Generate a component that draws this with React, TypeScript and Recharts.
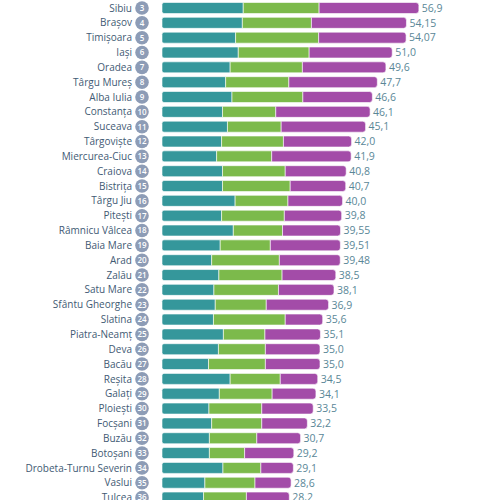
import React from 'react';
import { BarChart, Bar, XAxis, YAxis, LabelList } from 'recharts';

// rows 3..36 of the ranking (top of the chart is cropped in the reference)
const cities = [
  'Sibiu', 'Brașov', 'Timișoara', 'Iași', 'Oradea', 'Târgu Mureș', 'Alba Iulia', 'Constanța',
  'Suceava', 'Târgoviște', 'Miercurea-Ciuc', 'Craiova', 'Bistrița', 'Târgu Jiu', 'Pitești',
  'Râmnicu Vâlcea', 'Baia Mare', 'Arad', 'Zalău', 'Satu Mare', 'Sfântu Gheorghe', 'Slatina',
  'Piatra-Neamț', 'Deva', 'Bacău', 'Reșita', 'Galați', 'Ploiești', 'Focșani', 'Buzău',
  'Botoșani', 'Drobeta-Turnu Severin', 'Vaslui', 'Tulcea',
];
const ranks = [
  3, 4, 5, 6, 7, 8, 9, 10, 11, 12, 13, 14, 15, 16, 17, 18, 19, 20, 21, 22, 23, 24, 25, 26, 27,
  28, 29, 30, 31, 32, 33, 34, 35, 36,
];
const tealValues = [
  18.0, 17.8, 16.3, 16.9, 15.1, 14.1, 15.5, 13.4, 14.5, 13.2, 12.1, 13.4, 13.4, 16.2, 13.2,
  15.8, 12.9, 11.0, 12.6, 11.5, 11.8, 11.4, 13.6, 12.5, 10.3, 15.1, 12.7, 10.4, 11.0, 10.5,
  10.5, 13.5, 9.5, 9.2,
];
const greenValues = [
  16.8, 15.3, 18.4, 15.7, 16.0, 14.0, 15.7, 11.8, 11.9, 13.7, 12.2, 13.9, 15.0, 11.7, 13.9,
  10.9, 11.1, 15.0, 14.0, 14.3, 11.3, 15.9, 9.2, 10.4, 12.6, 11.1, 11.7, 11.7, 11.1, 10.5,
  7.8, 8.4, 11.1, 9.5,
];
const purpleValues = [
  22.1, 21.05, 19.37, 18.4, 18.5, 19.6, 15.4, 20.9, 18.7, 15.1, 17.6, 13.5, 12.3, 12.1, 12.7,
  12.85, 15.51, 13.48, 11.9, 12.3, 13.8, 8.3, 12.3, 12.1, 12.1, 8.3, 9.7, 11.4, 10.1, 9.7,
  10.9, 7.2, 8.0, 9.5,
];
const totalLabels = [
  '56,9', '54,15', '54,07', '51,0', '49,6', '47,7', '46,6', '46,1', '45,1', '42,0', '41,9',
  '40,8', '40,7', '40,0', '39,8', '39,55', '39,51', '39,48', '38,5', '38,1', '36,9', '35,6',
  '35,1', '35,0', '35,0', '34,5', '34,1', '33,5', '32,2', '30,7', '29,2', '29,1', '28,6', '28,2',
];

const data = cities.map((city, i) => ({
  city,
  rank: ranks[i],
  teal: tealValues[i],
  green: greenValues[i],
  purple: purpleValues[i],
  total: totalLabels[i],
}));

const colors = {
  teal: '#35979b',
  green: '#7cba4b',
  purple: '#a34ca8',
  name: '#3f5a74',
  badge: '#8d9cb6',
  value: '#5a8797',
};

const font = '"Open Sans", sans-serif';

const CityTick = (props: any) => {
  const { x, y, payload, index } = props;
  return (
    <g>
      <text x={x - 22} y={y} dy={3.6} textAnchor="end" fill={colors.name} fontSize={10} fontWeight={500} fontFamily={font}>
        {payload.value}
      </text>
      <circle cx={x - 12} cy={y} r={6.8} fill={colors.badge} />
      <text x={x - 12} y={y} dy={2.9} textAnchor="middle" fill="#fff" fontSize={8} fontWeight={600} fontFamily={font}>
        {data[index] ? data[index].rank : ''}
      </text>
    </g>
  );
};

const TotalLabel = (props: any) => {
  const { x, y, width, height, value } = props;
  return (
    <text x={x + width + 3} y={y + height / 2} dy={3.8} fill={colors.value} fontSize={10.5} fontFamily={font}>
      {value}
    </text>
  );
};

export default function App() {
  return (
    <div style={{ position: 'absolute', left: 0, top: 0, width: 500, height: 500, overflow: 'hidden', background: '#fff' }}>
      <BarChart
        width={500}
        height={505}
        data={data}
        layout="vertical"
        margin={{ top: 0.6, right: 22, left: 0, bottom: 0 }}
        barCategoryGap={1.9}
      >
        <XAxis type="number" domain={[0, 70]} hide />
        <YAxis
          type="category"
          dataKey="city"
          width={162}
          axisLine={false}
          tickLine={false}
          interval={0}
          tick={<CityTick />}
        />
        <Bar dataKey="teal" stackId="s" fill={colors.teal} stroke="#fff" strokeWidth={0.6} radius={[2, 0, 0, 2]} isAnimationActive={false} />
        <Bar dataKey="green" stackId="s" fill={colors.green} stroke="#fff" strokeWidth={0.6} isAnimationActive={false} />
        <Bar dataKey="purple" stackId="s" fill={colors.purple} stroke="#fff" strokeWidth={0.6} radius={[0, 3, 3, 0]} isAnimationActive={false}>
          <LabelList dataKey="total" content={<TotalLabel />} />
        </Bar>
      </BarChart>
    </div>
  );
}
